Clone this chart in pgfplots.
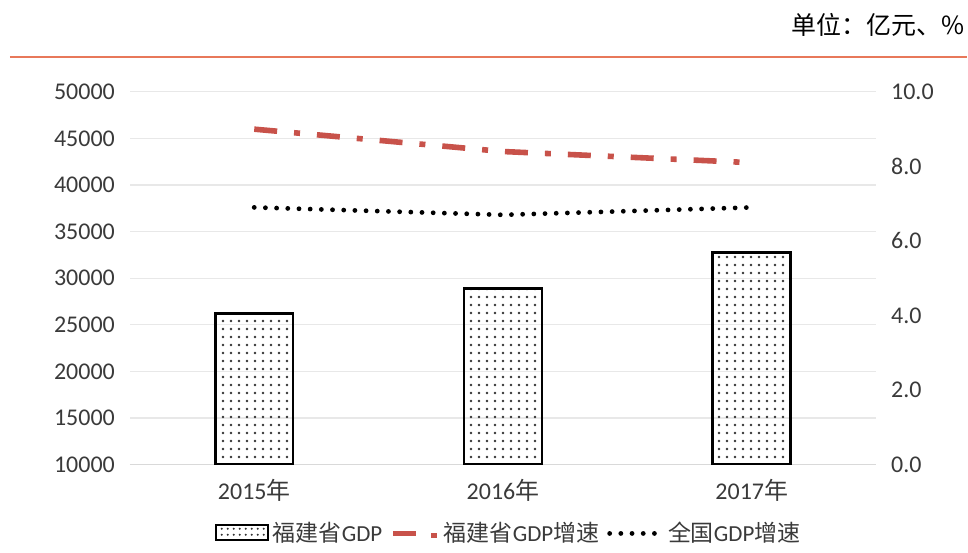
\documentclass[border=0pt]{standalone}
\usepackage{pgfplots}
\pgfplotsset{compat=1.18}
\usepackage{fontspec}
\setmainfont{Carlito}
\newfontfamily\cjk{Noto Sans CJK SC}
\usetikzlibrary{patterns.meta}

\definecolor{gdpred}{HTML}{C8524A}
\definecolor{topline}{HTML}{E8785A}
\definecolor{txt}{HTML}{3A3A3A}

\begin{document}
\begin{tikzpicture}
\path (0,0) rectangle (484pt,272pt);
% header
\draw[topline, line width=1pt] (5pt,243.5pt) -- (484pt,243.5pt);
\node[anchor=east, inner sep=1pt, font=\fontsize{12.5}{14}\selectfont\cjk, text=black] at (484pt,259.5pt) {单位：亿元、\%};

% left axis: GDP bars
\begin{axis}[
    at={(65pt,39.5pt)}, anchor=south west,
    scale only axis, width=373.5pt, height=186.5pt,
    xmin=-0.5, xmax=2.5,
    ymin=10000, ymax=50000,
    xtick={0,1,2},
    xticklabels={2015{\cjk 年},2016{\cjk 年},2017{\cjk 年}},
    ytick={10000,15000,...,50000},
    scaled y ticks=false,
    /pgf/number format/1000 sep={},
    /pgf/number format/assume math mode=true,
    ymajorgrids=true,
    grid style={gray!18, line width=0.6pt},
    axis line style={draw=none},
    major tick style={draw=none},
    ticklabel style={font=\fontsize{12}{14}\selectfont, text=txt},
    yticklabel style={xshift=-4pt},
    xticklabel style={yshift=-4pt},
]
\draw[gray!30, line width=0.6pt] (axis cs:-0.5,10000) -- (axis cs:2.5,10000);
\addplot[ybar, bar width=39pt, draw=black, line width=1.3pt,
    pattern={Dots[distance=4pt, radius=0.65pt]}, pattern color=black!80]
    coordinates {(0,26190) (1,28870) (2,32730)};
\end{axis}

% right axis: growth rates
\begin{axis}[
    at={(65pt,39.5pt)}, anchor=south west,
    scale only axis, width=373.5pt, height=186.5pt,
    xmin=-0.5, xmax=2.5,
    ymin=0, ymax=10,
    xtick=\empty,
    ytick={0,2,...,10},
    axis y line*=right,
    axis x line=none,
    axis line style={draw=none},
    major tick style={draw=none},
    /pgf/number format/.cd, fixed, fixed zerofill, precision=1, assume math mode=true,
    /pgfplots/.cd,
    ticklabel style={font=\fontsize{12}{14}\selectfont, text=txt},
    yticklabel style={xshift=4pt},
    legend columns=3,
    legend style={at={(0.509,-0.185)}, anchor=center, draw=none, fill=none,
        font=\fontsize{11.5}{13}\selectfont, text=txt,
        /tikz/every even column/.append style={column sep=2pt}},
]
\addlegendimage{legend image code/.code={
    \draw[draw=black, line width=1pt, pattern={Dots[distance=3pt, radius=0.55pt]}, pattern color=black!80]
        (0pt,-3.5pt) rectangle (26pt,4pt);}}
\addlegendentry{{\cjk 福建省}GDP}
\addplot[gdpred, line width=2.8pt, dash pattern=on 11.5pt off 8.5pt on 3pt off 8.5pt,
    legend image code/.code={
    \draw[gdpred, line width=2.8pt] (0pt,0pt) -- (12pt,0pt);
    \draw[gdpred, line width=2.8pt] (19pt,-1pt) -- (22pt,-1pt);}]
    coordinates {(0,9.0) (1,8.4) (2,8.1)};
\addlegendentry{{\cjk 福建省}GDP{\cjk 增速}}
\addplot[black, line width=2.4pt, line cap=round, dash pattern=on 0pt off 5.6pt,
    legend image code/.code={
    \draw[black, line width=2.4pt, line cap=round, dash pattern=on 0pt off 5.6pt] (1pt,0pt) -- (27pt,0pt);}]
    coordinates {(0,6.9) (1,6.7) (2,6.9)};
\addlegendentry{{\cjk 全国}GDP{\cjk 增速}}
\end{axis}
\end{tikzpicture}
\end{document}
